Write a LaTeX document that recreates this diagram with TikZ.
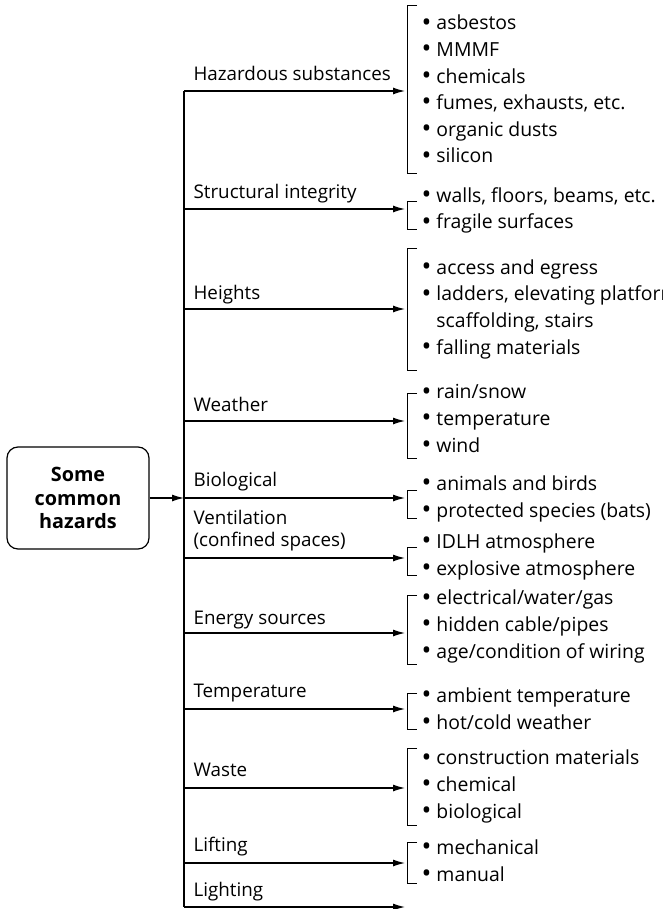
\documentclass[tikz,border=0pt]{standalone}
\usepackage{fontspec}
\setmainfont{Open Sans}
\usetikzlibrary{arrows.meta}
\tikzset{
  root/.style={draw, rounded corners=11pt, line width=1.2pt, minimum width=142pt,
    minimum height=102pt, align=center, inner sep=0pt,
    font=\fontsize{19.8}{23.5}\selectfont\bfseries},
  lbl/.style={anchor=base west, inner sep=0pt, align=left,
    font=\fontsize{18.8}{22}\selectfont},
  % lists are placed by the baseline of their last line
  items/.style={anchor=base west, inner sep=0pt, align=left,
    font=\fontsize{19.4}{26.6}\selectfont},
  arr/.style={-{Latex[length=12pt,width=7pt]}, line width=1.2pt},
}
% square bracket in front of a list: top, bottom
\newcommand{\hzbracket}[2]{\draw[line width=1pt] (417,#1) -- (407,#1) -- (407,#2) -- (417,#2);}
\newcommand{\itm}{\raisebox{-1.2pt}{\scalebox{1.35}{\textbullet}}\ }
\newcommand{\cont}{\hphantom{\itm}}

\begin{document}
\begin{tikzpicture}[x=1pt,y=-1pt,line width=1.2pt]
  \useasboundingbox (0,0) rectangle (663,909);
  \node[root] (root) at (78,498) {Some\\common\\hazards};
  % trunk
  \coordinate (top) at (184,91);
  \coordinate (bot) at (184,907);
  \draw (top) -- (bot);
  \coordinate (j0) at (184,498);
  \draw[arr] (root.east |- j0) -- (j0);
  % branches
  \foreach \n/\y in {hs/91, si/209, ht/309, wt/421, bi/498, vt/558,
                     en/633, tm/709, ws/788, lf/863, lg/907}{
    \coordinate (\n-t) at (184,\y);
    \coordinate (\n-e) at (405,\y);
    \draw[arr] (\n-t) -- (\n-e);
  }
  % branch labels
  \node[lbl] (hs-l) at (193,81) {Hazardous substances};
  \node[lbl] (si-l) at (193,199) {Structural integrity};
  \node[lbl] (ht-l) at (193,299) {Heights};
  \node[lbl] (wt-l) at (193,411) {Weather};
  \node[lbl] (bi-l) at (193,486) {Biological};
  \node[lbl] (vt-l) at (193,546) {Ventilation\\(confined spaces)};
  \node[lbl] (en-l) at (193,624) {Energy sources};
  \node[lbl] (tm-l) at (193,697) {Temperature};
  \node[lbl] (ws-l) at (193,776) {Waste};
  \node[lbl] (lf-l) at (193,851) {Lifting};
  \node[lbl] (lg-l) at (193,896) {Lighting};
  % lists
  \node[items] (hs-i) at (421,163) {\itm asbestos\\\itm MMMF\\\itm chemicals\\
    \itm fumes, exhausts, etc.\\\itm organic dusts\\\itm silicon};
  \hzbracket{6}{174}
  \node[items] (si-i) at (421,229) {\itm walls, floors, beams, etc.\\\itm fragile surfaces};
  \hzbracket{202}{230}
  \node[items] (ht-i) at (421,354) {\itm access and egress\\\itm ladders, elevating platforms,\\
    \cont scaffolding, stairs\\\itm falling materials};
  \hzbracket{248}{370}
  \node[items] (wt-i) at (421,452) {\itm rain/snow\\\itm temperature\\\itm wind};
  \hzbracket{393}{458}
  \node[items] (bi-i) at (421,517) {\itm animals and birds\\\itm protected species (bats)};
  \hzbracket{490}{518}
  \node[items] (vt-i) at (421,575) {\itm IDLH atmosphere\\\itm explosive atmosphere};
  \hzbracket{547}{575}
  \node[items] (en-i) at (421,658) {\itm electrical/water/gas\\\itm hidden cable/pipes\\
    \itm age/condition of wiring};
  \hzbracket{595}{664}
  \node[items] (tm-i) at (421,729) {\itm ambient temperature\\\itm hot/cold weather};
  \hzbracket{693}{729}
  \node[items] (ws-i) at (421,818) {\itm construction materials\\\itm chemical\\\itm biological};
  \hzbracket{748}{825}
  \node[items] (lf-i) at (421,881) {\itm mechanical\\\itm manual};
  \hzbracket{842}{883}
\end{tikzpicture}
\end{document}
